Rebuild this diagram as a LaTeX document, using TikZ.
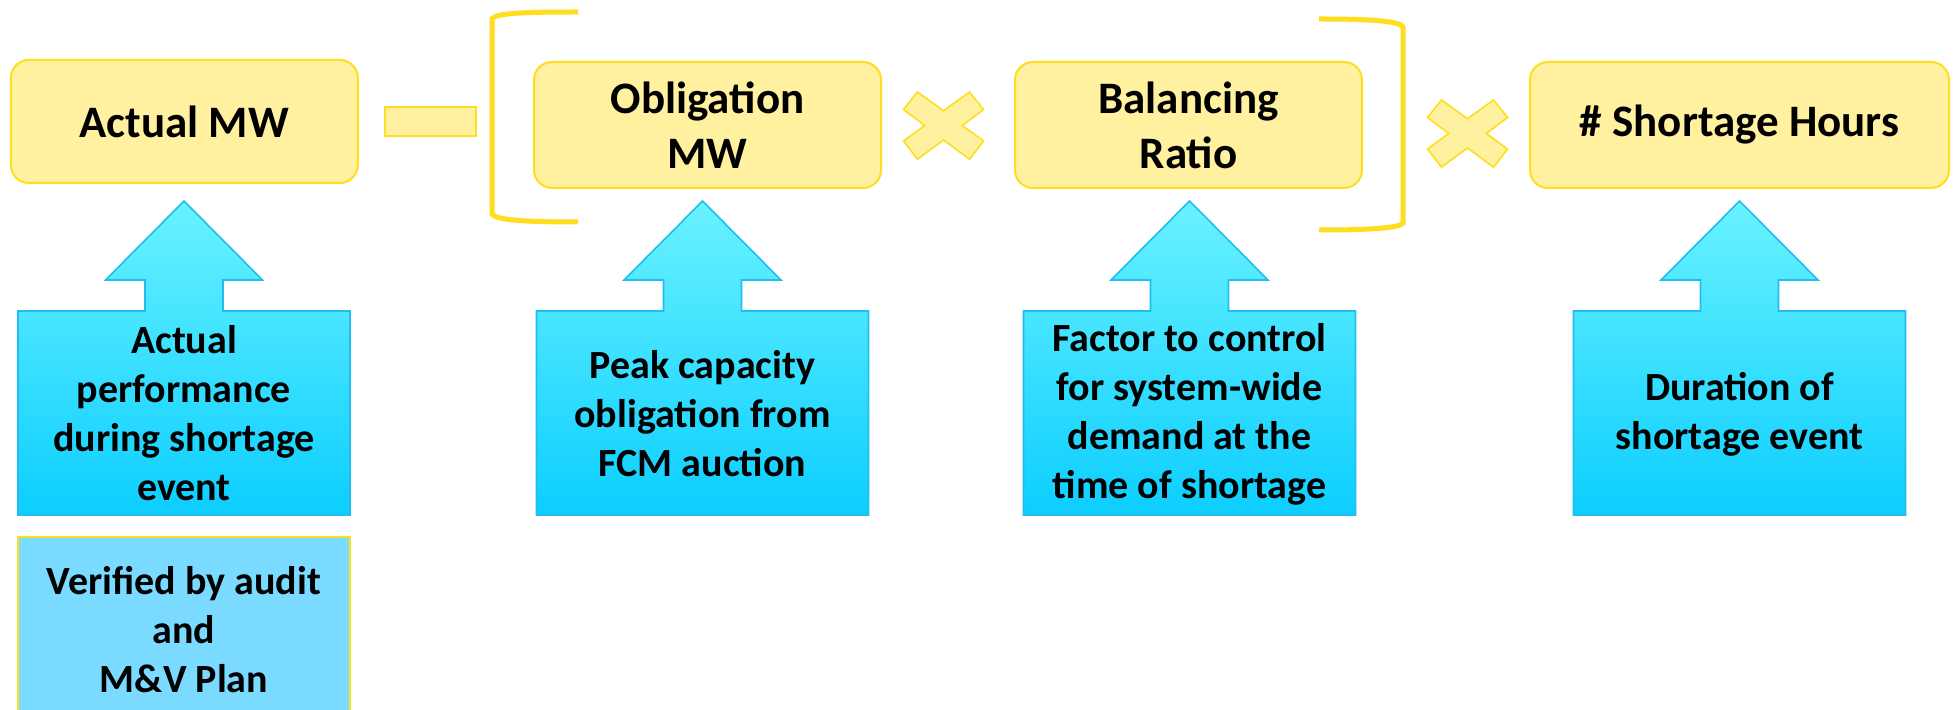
\documentclass[tikz,border=0pt]{standalone}
\usepackage{fontspec}
\setmainfont{Carlito}
\definecolor{yfill}{RGB}{255,241,160}
\definecolor{yline}{RGB}{255,222,30}
\definecolor{btop}{RGB}{106,242,255}
\definecolor{bbot}{RGB}{12,206,255}
\definecolor{bline}{RGB}{32,190,240}
\definecolor{vfill}{RGB}{122,218,255}
\tikzset{
  ybox/.style={draw=yline, fill=yfill, line width=1pt, rounded corners=9pt, minimum width=173.5pt, minimum height=63pt, align=center, inner sep=0pt, font=\fontsize{22.5}{27.5}\selectfont\bfseries},
  atext/.style={align=center, inner sep=0pt, font=\fontsize{20}{24.5}\selectfont\bfseries},
  arrowshape/.style={draw=bline, line width=0.8pt, top color=btop, bottom color=bbot},
  opshape/.style={draw=yline, fill=yfill, line width=0.8pt},
  bracket/.style={draw=yline, line width=2.5pt},
  uparrow/.pic={\path[arrowshape] (0,201) -- (78.5,280) -- (39,280) -- (39,311) -- (166,311) -- (166,515) -- (-166,515) -- (-166,311) -- (-39,311) -- (-39,280) -- (-78.5,280) -- cycle;},
  timessign/.pic={\path[opshape] (-40,-16) -- (-26,-33.5) -- (0,-14.8) -- (26,-33.5) -- (40,-16) -- (18.8,0) -- (40,15.5) -- (26,33.7) -- (0,14.5) -- (-26,33.7) -- (-40,15.5) -- (-18.8,0) -- cycle;}
}
\begin{document}
\begin{tikzpicture}[x=0.5pt,y=-0.5pt]
\clip (0,0) rectangle (1958,710);
\fill[white] (0,0) rectangle (1958,710);
% top boxes
\node[ybox, minimum height=61.5pt] (actual) at (184.3,121.5) {Actual MW};
\node[ybox] (oblig) at (707.5,125) {Obligation\\MW};
\node[ybox] (balance) at (1188.5,125) {Balancing\\Ratio};
\node[ybox, minimum width=209.5pt] (hours) at (1739.5,125) {\# Shortage Hours};
% operators
\node[opshape, minimum width=45.5pt, minimum height=14.5pt, inner sep=0pt] (minus) at (430.5,121.5) {};
\pic at (943.5,125.5) {timessign};
\pic at (1467.5,133.5) {timessign};
% brackets
\path[bracket] (578,12) .. controls (525,12) and (495,13) .. (492,19) -- (492,214) .. controls (495,220) and (525,222) .. (578,222);
\path[bracket] (1319,19) .. controls (1370,19) and (1400,21) .. (1403,27) -- (1403,223) .. controls (1400,228) and (1370,230) .. (1319,230);
% up arrows
\pic at (184,0) {uparrow};
\pic at (702.5,0) {uparrow};
\pic at (1189.5,0) {uparrow};
\pic at (1739.5,0) {uparrow};
\node[atext] (t1) at (184,413) {Actual\\performance\\during shortage\\event};
\node[atext] (t2) at (702.5,414) {Peak capacity\\obligation from\\FCM auction};
\node[atext] (t3) at (1189.5,414) {Factor to control\\for system-wide\\demand at the\\time of shortage};
\node[atext] (t4) at (1739.5,414) {Duration of\\shortage event};
% verified box
\path[draw=yline, fill=vfill, line width=1.2pt] (18,537) rectangle (350,730);
\node[atext] (verified) at (184,630) {Verified by audit\\and\\M\&V Plan};
\end{tikzpicture}
\end{document}
